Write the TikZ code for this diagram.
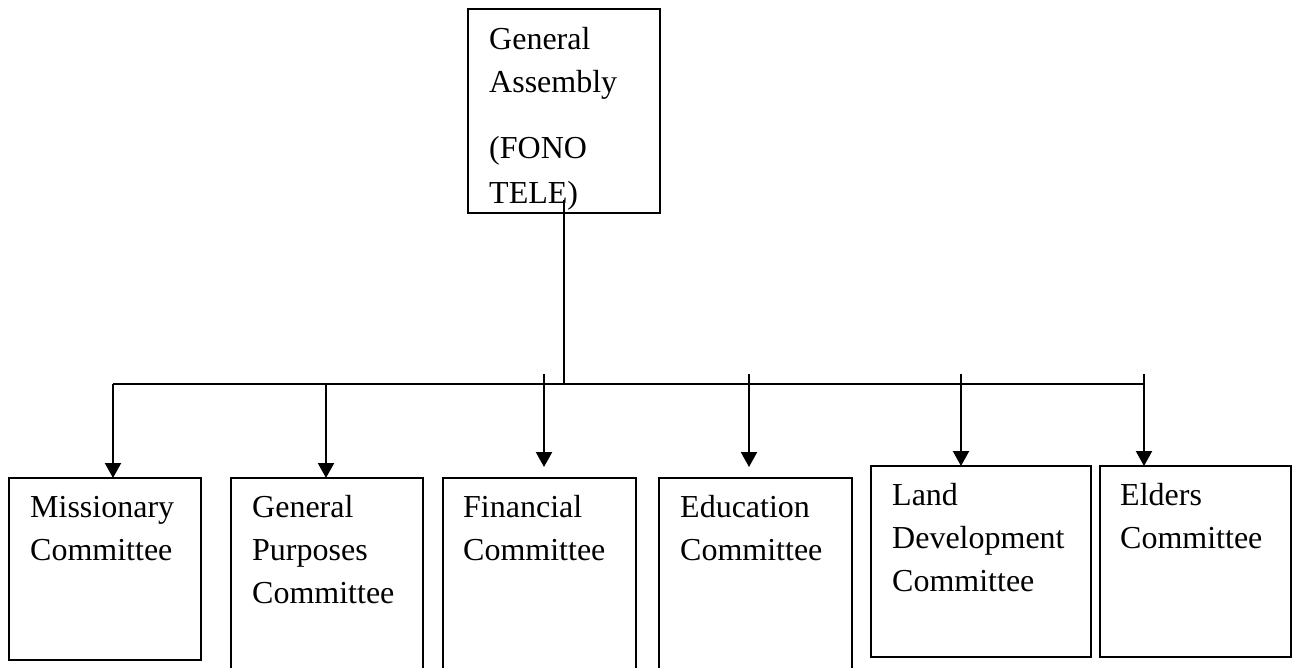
\documentclass[tikz,border=0pt]{standalone}
\usepackage{fontspec}
\setmainfont{Liberation Serif}
\usetikzlibrary{arrows.meta}
\newcommand\fl{\rule{0pt}{24pt}}
\begin{document}
\begin{tikzpicture}[x=1pt,y=-1pt,
  box/.style={draw,line width=1.8pt,inner sep=0pt,outer sep=0pt},
  txt/.style={anchor=north west,inner sep=0pt,align=left,font=\fontsize{32}{43}\selectfont},
  ln/.style={line width=2.2pt},
  arr/.style={line width=2.2pt,-{Triangle[width=16pt,length=15pt]}}]
\useasboundingbox (0,0) rectangle (1298,667);
% boxes
\node[box,minimum width=192pt,minimum height=204pt] (top) at (564,111) {};
\node[box,minimum width=192pt,minimum height=182pt] (mis) at (105,569) {};
\node[box,minimum width=192pt,minimum height=204pt] (gen) at (327,580) {};
\node[box,minimum width=193pt,minimum height=204pt] (fin) at (539.5,580) {};
\node[box,minimum width=193pt,minimum height=204pt] (edu) at (755.5,580) {};
\node[box,minimum width=220pt,minimum height=191pt] (lan) at (981,561.5) {};
\node[box,minimum width=191pt,minimum height=191pt] (eld) at (1195.5,561.5) {};
% texts
\node[txt] (ttop) at (489,25) {\fl General\\Assembly\\[23pt](FONO\\[2pt]TELE)};
\node[txt] (tmis) at (30,493) {\fl Missionary\\Committee};
\node[txt] (tgen) at (252,493) {\fl General\\Purposes\\Committee};
\node[txt] (tfin) at (463,493) {\fl Financial\\Committee};
\node[txt] (tedu) at (680,493) {\fl Education\\Committee};
\node[txt] (tlan) at (892,481) {\fl Land\\Development\\Committee};
\node[txt] (teld) at (1120,481) {\fl Elders\\Committee};
% bus
\coordinate (j) at (564,384);
\coordinate (bl) at (113,384);
\coordinate (br) at (1144,384);
\coordinate (g1) at (326,384);
\coordinate (fs) at (544,374);
\coordinate (es) at (749,374);
\coordinate (ls) at (961,374);
\coordinate (rs) at (1144,374);
\draw[ln] ([yshift=13pt]top.south) -- (j);
\draw[ln] (bl) -- (br);
\draw[arr] (bl) -- (bl |- mis.north);
\draw[arr] (g1) -- (g1 |- gen.north);
\draw[arr] (fs) -- ([yshift=11pt]fs |- fin.north);
\draw[arr] (es) -- ([yshift=11pt]es |- edu.north);
\draw[arr] (ls) -- (ls |- lan.north);
\draw[arr] (rs) -- (rs |- eld.north);
\end{tikzpicture}
\end{document}
